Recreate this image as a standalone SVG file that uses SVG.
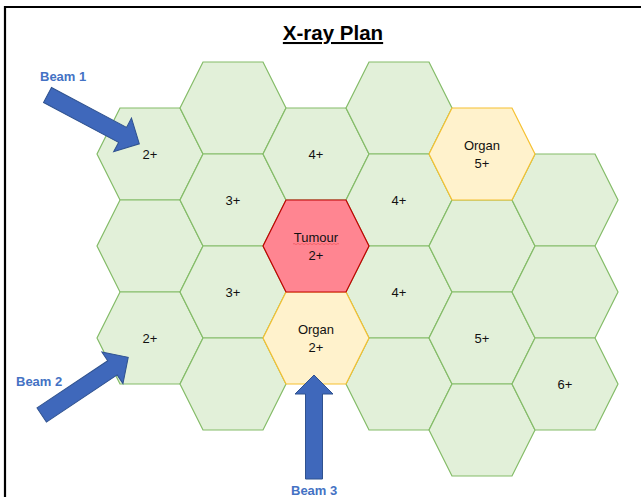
<svg xmlns="http://www.w3.org/2000/svg" xmlns:xlink="http://www.w3.org/1999/xlink" width="641" height="497" viewBox="0 0 641 497">
  <style>
    .g { fill: #E2F0D9; stroke: #84BC68; stroke-width: 1.2; }
    .o { fill: #FFF2CC; stroke: #F5C031; stroke-width: 1.2; }
    .t { fill: #FF8591; stroke: #C00000; stroke-width: 1.2; }
    .lbl { font-family: "Liberation Sans", Arial, sans-serif; font-size: 13px; fill: #111; text-anchor: middle; }
    .beam { font-family: "Liberation Sans", Arial, sans-serif; font-size: 13px; font-weight: bold; fill: #4472C4; }
    .arrow { fill: #3F68BB; stroke: #2F528F; stroke-width: 1; }
    .title { font-family: "Liberation Sans", Arial, sans-serif; font-size: 20.5px; font-weight: bold; fill: #000; text-anchor: middle; text-decoration: underline; }
  </style>
  <defs>
    <polygon id="hex" points="-53,0 -30,-46 30,-46 53,0 30,46 -30,46"/>
    <polygon id="arr" points="0,-8.5 85,-8.5 85,-19 104,0 85,19 85,8.5 0,8.5"/>
  </defs>
  <rect x="0" y="0" width="641" height="497" fill="#fff"/>
  <path d="M5,660 V7 H660" fill="none" stroke="#000" stroke-width="2.2"/>
  <text class="title" x="333" y="40">X-ray Plan</text>

  <!-- green cells -->
  <g id="h1a"><use xlink:href="#hex" href="#hex" class="g" x="150" y="154"/><text class="lbl" x="150" y="158.5">2+</text></g>
  <g id="h1b"><use xlink:href="#hex" href="#hex" class="g" x="150" y="246"/></g>
  <g id="h1c"><use xlink:href="#hex" href="#hex" class="g" x="150" y="338"/><text class="lbl" x="150" y="342.5">2+</text></g>
  <g id="h2a"><use xlink:href="#hex" href="#hex" class="g" x="233" y="108"/></g>
  <g id="h2b"><use xlink:href="#hex" href="#hex" class="g" x="233" y="200"/><text class="lbl" x="233" y="204.5">3+</text></g>
  <g id="h2c"><use xlink:href="#hex" href="#hex" class="g" x="233" y="292"/><text class="lbl" x="233" y="296.5">3+</text></g>
  <g id="h2d"><use xlink:href="#hex" href="#hex" class="g" x="233" y="384"/></g>
  <g id="h3a"><use xlink:href="#hex" href="#hex" class="g" x="316" y="154"/><text class="lbl" x="316" y="158.5">4+</text></g>
  <g id="h4a"><use xlink:href="#hex" href="#hex" class="g" x="399" y="108"/></g>
  <g id="h4b"><use xlink:href="#hex" href="#hex" class="g" x="399" y="200"/><text class="lbl" x="399" y="204.5">4+</text></g>
  <g id="h4c"><use xlink:href="#hex" href="#hex" class="g" x="399" y="292"/><text class="lbl" x="399" y="296.5">4+</text></g>
  <g id="h4d"><use xlink:href="#hex" href="#hex" class="g" x="399" y="384"/></g>
  <g id="h5b"><use xlink:href="#hex" href="#hex" class="g" x="482" y="246"/></g>
  <g id="h5c"><use xlink:href="#hex" href="#hex" class="g" x="482" y="338"/><text class="lbl" x="482" y="342.5">5+</text></g>
  <g id="h5d"><use xlink:href="#hex" href="#hex" class="g" x="482" y="430"/></g>
  <g id="h6a"><use xlink:href="#hex" href="#hex" class="g" x="565" y="200"/></g>
  <g id="h6b"><use xlink:href="#hex" href="#hex" class="g" x="565" y="292"/></g>
  <g id="h6c"><use xlink:href="#hex" href="#hex" class="g" x="565" y="384"/><text class="lbl" x="565" y="388.5">6+</text></g>

  <!-- organs -->
  <g id="organ1"><use xlink:href="#hex" href="#hex" class="o" x="482" y="154"/><text class="lbl" x="482" y="149.5">Organ</text><text class="lbl" x="482" y="167.5">5+</text></g>
  <g id="organ2"><use xlink:href="#hex" href="#hex" class="o" x="316" y="338"/><text class="lbl" x="316" y="333.5">Organ</text><text class="lbl" x="316" y="351.5">2+</text></g>

  <!-- tumour -->
  <g id="tumour"><use xlink:href="#hex" href="#hex" class="t" x="316" y="246"/><text class="lbl" x="316" y="241.5">Tumour</text><text class="lbl" x="316" y="259.5">2+</text>
    <path d="M293,244 q1,-1 2,0 t2,0 t2,0 t2,0 t2,0 t2,0 t2,0 t2,0 t2,0 t2,0 t2,0 t2,0 t2,0 t2,0 t2,0 t2,0 t2,0 t2,0 t2,0 t2,0 t2,0 t2,0 t2,0" fill="none" stroke="#E03030" stroke-width="0.6" opacity="0.7"/>
  </g>

  <!-- beams -->
  <g id="connectors">
    <g id="beam1"><use xlink:href="#arr" href="#arr" class="arrow" transform="translate(47.5,95) rotate(28)"/><text class="beam" x="40" y="80.5">Beam 1</text></g>
    <g id="beam2"><use xlink:href="#arr" href="#arr" class="arrow" transform="translate(41.7,415) rotate(-33.7)"/><text class="beam" x="16" y="385.5">Beam 2</text></g>
    <g id="beam3"><use xlink:href="#arr" href="#arr" class="arrow" transform="translate(314,479) rotate(-90)"/><text class="beam" x="291" y="494.5">Beam 3</text></g>
  </g>
</svg>
